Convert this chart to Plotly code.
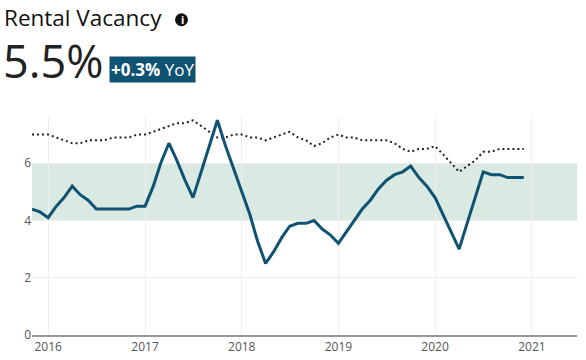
import pandas as pd
import plotly.graph_objects as go

FONT = "Open Sans"
NAVY = "#0f5272"

months = pd.date_range("2015-11-01", "2020-12-01", freq="MS").strftime("%Y-%m-%d").tolist()
rental_vacancy = [4.4, 4.3, 4.1, 4.5, 4.8, 5.2, 4.9, 4.7, 4.4, 4.4, 4.4, 4.4, 4.4, 4.5,
                  4.5, 5.2, 6.0, 6.7, 6.1, 5.4, 4.8, 5.7, 6.6, 7.5, 6.6, 5.8,
                  5.0, 4.2, 3.3, 2.5, 2.9, 3.4, 3.8, 3.9, 3.9, 4.0, 3.7, 3.5,
                  3.2, 3.6, 4.0, 4.4, 4.7, 5.1, 5.4, 5.6, 5.7, 5.9, 5.5, 5.2,
                  4.8, 4.2, 3.6, 3.0, 3.9, 4.8, 5.7, 5.6, 5.6, 5.5, 5.5, 5.5]
benchmark = [7.0, 7.0, 7.0, 6.9, 6.8, 6.7, 6.7, 6.8, 6.8, 6.8, 6.9, 6.9, 6.9, 7.0,
             7.0, 7.1, 7.2, 7.3, 7.4, 7.4, 7.5, 7.3, 7.1, 6.9, 6.9, 7.0,
             7.0, 6.9, 6.9, 6.8, 6.9, 7.0, 7.1, 6.9, 6.8, 6.6, 6.7, 6.9,
             7.0, 6.9, 6.9, 6.8, 6.8, 6.8, 6.8, 6.7, 6.5, 6.4, 6.5, 6.5,
             6.6, 6.3, 6.0, 5.7, 5.9, 6.1, 6.4, 6.4, 6.5, 6.5, 6.5, 6.5]
band_low, band_high = 4, 6
y_ticks = [0, 2, 4, 6]
x_ticks = ["2016-01-01", "2017-01-01", "2018-01-01", "2019-01-01", "2020-01-01", "2021-01-01"]
x_labels = ["2016", "2017", "2018", "2019", "2020", "2021"]

fig = go.Figure()
fig.add_trace(go.Scatter(x=months, y=benchmark, mode="lines",
                         line=dict(color="#222222", width=2, dash="2px,3px"), hoverinfo="skip"))
fig.add_trace(go.Scatter(x=months, y=rental_vacancy, mode="lines",
                         line=dict(color=NAVY, width=3), hoverinfo="skip"))
fig.add_shape(type="rect", xref="paper", x0=0, x1=1, yref="y", y0=band_low, y1=band_high,
              fillcolor="rgba(170,205,188,0.43)", line_width=0, layer="below")

def note(text, x, y, size, color="#222222", family=FONT, **kw):
    fig.add_annotation(text=text, xref="paper", yref="paper", x=x, y=y, showarrow=False,
                       xanchor="left", yanchor="middle", font=dict(family=family, size=size, color=color), **kw)

W, H = 545, 219.5
px = lambda v: (v - 32) / W
py = lambda v: (335.5 - v) / H
note("Rental Vacancy", px(2), py(17), 22.5, color="#111111", family="Open Sans")
note("5.5%", px(1), py(60), 45)
note("<b>+0.3%</b> YoY", px(109), py(69), 17, color="white", bgcolor=NAVY, borderpad=1)
fig.add_shape(type="circle", xref="paper", yref="paper", x0=px(175), x1=px(188), y0=py(26), y1=py(13),
              fillcolor="#111111", line_width=0)
note("<b>i</b>", px(178.5), py(19.5), 11, color="white")

fig.update_layout(
    width=586, height=360, margin=dict(l=32, r=9, t=116, b=24.5, pad=0),
    plot_bgcolor="white", paper_bgcolor="white", showlegend=False,
    font=dict(family=FONT, size=12, color="#555555"),
    xaxis=dict(range=["2015-11-01", "2021-06-20"], tickvals=x_ticks, ticktext=x_labels, automargin=False,
               showgrid=True, gridcolor="#eeeeee", gridwidth=1, zeroline=False,
               showline=True, linecolor="#999999", linewidth=2, ticks="", tickfont=dict(size=12)),
    yaxis=dict(range=[0, 7.65], tickvals=y_ticks, showgrid=True, gridcolor="#eeeeee", gridwidth=1, automargin=False,
               zeroline=False, showline=False, ticks="", tickfont=dict(size=12)),
)
fig.write_html("out.html", post_script="document.body.style.margin='0';", config=dict(displayModeBar=False))
